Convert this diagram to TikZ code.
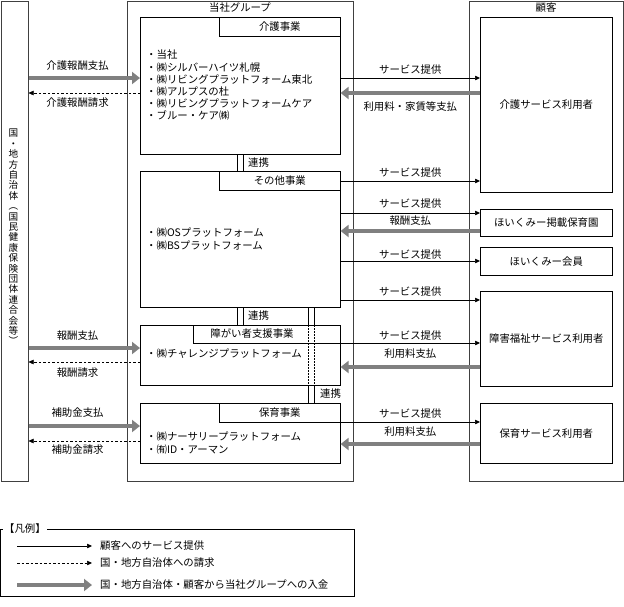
\documentclass[tikz,border=0pt]{standalone}
\usepackage{fontspec}
\setmainfont{Noto Sans CJK JP}
\usetikzlibrary{arrows.meta,positioning}

\begin{document}
\begin{tikzpicture}[x=1pt, y=-1pt,
  font=\fontsize{10.4}{12.2}\selectfont,
  frame/.style={draw=black!75, line width=1pt, anchor=north west, inner sep=0},
  unit/.style={draw, line width=0.6pt, anchor=north west, inner sep=0},
  tab/.style={draw, line width=0.6pt, fill=white, anchor=north east, inner sep=0},
  user/.style={unit, anchor=north west, minimum width=132pt},
  list/.style={inner sep=0, align=left, anchor=west},
  lbl/.style={inner sep=0},
  svc/.style={line width=0.5pt, -{Triangle[length=5pt,width=4.5pt]}},
  bill/.style={svc, dash pattern=on 2.5pt off 2pt},
  pay/.style={draw=black!50, line width=4.5pt, -{Triangle[length=8pt,width=12pt,fill=black!50]}}]

\useasboundingbox (0,0) rectangle (624,606);

% outer frames
\node[frame, minimum width=27pt, minimum height=480pt] (gov) at (0.5,0.5) {};
\node[frame, minimum width=226pt, minimum height=480pt] (group) at (127,0.5) {};
\node[frame, minimum width=154pt, minimum height=480pt] (cust) at (469,0.5) {};
\node (grouptitle) at (240,8) {当社グループ};
\node (custtitle) at (546,8) {顧客};
\node[align=center, font=\fontsize{9.6}{10.4}\selectfont] (govtext) at (13.5,237)
  {国\\・\\地\\方\\自\\治\\体\\︵\\国\\民\\健\\康\\保\\険\\団\\体\\連\\合\\会\\等\\︶};

% business units
\node[unit, minimum width=200pt, minimum height=137pt] (kaigo) at (140,17) {};
\node[unit, minimum width=200pt, minimum height=136pt] (sonota) at (140,171) {};
\node[unit, minimum width=200pt, minimum height=60pt] (shogai) at (140,325) {};
\node[unit, minimum width=200pt, minimum height=60pt] (hoiku) at (140,403) {};
\node[tab, minimum width=121pt, minimum height=19pt] (kaigotab) at (kaigo.north east) {介護事業};
\node[tab, minimum width=121pt, minimum height=19pt] (sonotatab) at (sonota.north east) {その他事業};
\node[tab, minimum width=147pt, minimum height=18pt] (shogaitab) at (shogai.north east) {};
\node[lbl] (shogaititle) at (252,334) {障がい者支援事業};
\node[tab, minimum width=121pt, minimum height=19pt] (hoikutab) at (hoiku.north east) {保育事業};

\node[list] (kaigolist) at (146,85.5) {・当社\\・㈱シルバーハイツ札幌\\・㈱リビングプラットフォーム東北\\・㈱アルプスの杜\\・㈱リビングプラットフォームケア\\・ブルー・ケア㈱};
\node[list] (sonotalist) at (146,239) {・㈱OSプラットフォーム\\・㈱BSプラットフォーム};
\node[list] (shogailist) at (146,354) {・㈱チャレンジプラットフォーム};
\node[list] (hoikulist) at (146,443) {・㈱ナーサリープラットフォーム\\・㈲ID・アーマン};

% customers
\node[user, minimum height=175pt] (kaiuser) at (480,17) {介護サービス利用者};
\node[user, minimum height=27pt] (hoien) at (480,209) {ほいくみー掲載保育園};
\node[user, minimum height=28pt] (member) at (480,247) {ほいくみー会員};
\node[user, minimum height=95pt] (shouser) at (480,291) {障害福祉サービス利用者};
\node[user, minimum height=60pt] (hoiuser) at (480,403) {保育サービス利用者};

% links between units
\foreach \x in {237,243} {
  \draw (kaigo.south -| \x,0) -- (sonota.north -| \x,0);
  \draw (sonota.south -| \x,0) -- (shogai.north -| \x,0);
}
\foreach \x in {308,314} {
  \draw (sonota.south -| \x,0) -- (shogai.north -| \x,0);
  \draw[dash pattern=on 1.5pt off 1.5pt] (shogai.north -| \x,0) -- (shogai.south -| \x,0);
  \draw (shogai.south -| \x,0) -- (hoiku.north -| \x,0);
}
\node[lbl, anchor=west] (link1) at (248,163) {連携};
\node[lbl, anchor=west] (link2) at (248,316) {連携};
\node[lbl, anchor=west] (link3) at (320,394) {連携};

% government side
\draw[pay] (gov.east |- 0,78) -- node[lbl, pos=.44, above=5.8pt] {介護報酬支払} (kaigo.west |- 0,78);
\draw[bill] (kaigo.west |- 0,93) -- node[lbl, pos=.56, below=4.8pt] {介護報酬請求} (gov.east |- 0,93);
\draw[pay] (gov.east |- 0,348) -- node[lbl, pos=.44, above=5.8pt] {報酬支払} (shogai.west |- 0,348);
\draw[bill] (shogai.west |- 0,362) -- node[lbl, pos=.56, below=5.8pt] {報酬請求} (gov.east |- 0,362);
\draw[pay] (gov.east |- 0,426) -- node[lbl, pos=.44, above=6.8pt] {補助金支払} (hoiku.west |- 0,426);
\draw[bill] (hoiku.west |- 0,441) -- node[lbl, pos=.56, below=3.8pt] {補助金請求} (gov.east |- 0,441);

% customer side
\draw[svc] (kaigo.east |- 0,78) -- node[lbl, above=3.8pt] {サービス提供} (kaiuser.west |- 0,78);
\draw[pay] (kaiuser.west |- 0,93) -- node[lbl, below=6.8pt] {利用料・家賃等支払} (kaigo.east |- 0,93);
\draw[svc] (sonota.east |- 0,181) -- node[lbl, above=3.8pt] {サービス提供} (kaiuser.west |- 0,181);
\draw[svc] (sonota.east |- 0,213) -- node[lbl, above=4.8pt] {サービス提供} (hoien.west |- 0,213);
\draw[pay] (hoien.west |- 0,231) -- node[lbl, above=3.8pt] {報酬支払} (sonota.east |- 0,231);
\draw[svc] (sonota.east |- 0,261) -- node[lbl, above=1.8pt] {サービス提供} (member.west |- 0,261);
\draw[svc] (sonota.east |- 0,300) -- node[lbl, above=3.8pt] {サービス提供} (shouser.west |- 0,300);
\draw[svc] (shogai.east |- 0,343) -- node[lbl, above=2.8pt] {サービス提供} (shouser.west |- 0,343);
\draw[pay] (shouser.west |- 0,367) -- node[lbl, above=6.8pt] {利用料支払} (shogai.east |- 0,367);
\draw[svc] (hoiku.east |- 0,422) -- node[lbl, above=3.8pt] {サービス提供} (hoiuser.west |- 0,422);
\draw[pay] (hoiuser.west |- 0,444) -- node[lbl, above=5.8pt] {利用料支払} (hoiku.east |- 0,444);

% legend
\node[unit, minimum width=353pt, minimum height=67pt] (legend) at (0.5,529) {};
\node[fill=white, inner sep=1pt, anchor=west] (legendtitle) at (3,529) {【凡例】};
\foreach \i/\y/\s/\t in {1/546/svc/顧客へのサービス提供, 2/563/bill/国・地方自治体への請求, 3/585/pay/国・地方自治体・顧客から当社グループへの入金} {
  \coordinate (key\i) at (17,\y);
  \node[lbl, anchor=west] (desc\i) at (100,\y) {\t};
  \draw[\s] (key\i) -- ([xshift=-8pt]desc\i.west);
}
\end{tikzpicture}
\end{document}
